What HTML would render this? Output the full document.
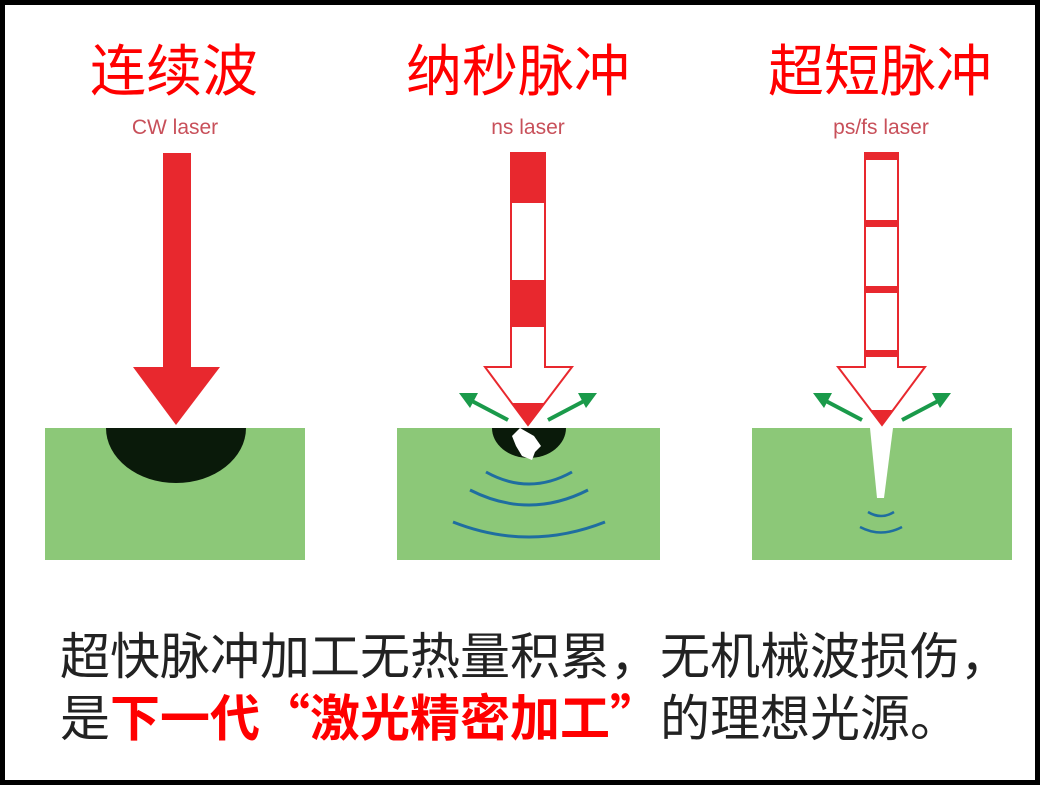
<!DOCTYPE html>
<html><head><meta charset="utf-8"><style>
html,body{margin:0;padding:0;background:#fff}
body{width:1040px;height:785px;position:relative;overflow:hidden;font-family:"Liberation Sans","Noto Sans CJK SC",sans-serif}
.frame{position:absolute;left:0;top:0;width:1030px;height:775px;border:5px solid #000}
.t{position:absolute;color:#f00;font-size:56px;line-height:56px;white-space:nowrap;text-align:center;width:300px;font-family:"Noto Sans CJK SC",sans-serif}
.s{position:absolute;color:#c8505a;font-size:21px;line-height:22px;text-align:center;width:300px}
.b{position:absolute;left:60px;font-size:50px;line-height:52px;color:#222;white-space:nowrap;font-family:"Noto Sans CJK SC",sans-serif}
.b span{color:#f00;font-weight:bold}
</style></head><body>
<div class="frame"></div>
<div class="t" style="left:24px;top:40px">连续波</div>
<div class="t" style="left:368px;top:40px">纳秒脉冲</div>
<div class="t" style="left:730px;top:40px">超短脉冲</div>
<div class="s" style="left:25px;top:117px">CW laser</div>
<div class="s" style="left:378px;top:117px">ns laser</div>
<div class="s" style="left:731px;top:117px">ps/fs laser</div>
<svg width="1040" height="785" style="position:absolute;left:0;top:0">
<rect x="45" y="428" width="260" height="132" fill="#8cc878"/>
<path d="M106 428 A70 55 0 0 0 246 428 Z" fill="#0a1a0a"/>
<rect x="163" y="153" width="28" height="215" fill="#e8282e"/>
<polygon points="133,367 220,367 176,425" fill="#e8282e"/>
<rect x="397" y="428" width="263" height="132" fill="#8cc878"/>
<path d="M492 428 A37 30 0 0 0 566 428 Z" fill="#0a1a0a"/>
<path d="M520 428 L534 436 L541 446 L535 452 L532 460 L522 456 L516 446 L512 436 Z" fill="#fff"/>
<g fill="none" stroke="#1f6ea0" stroke-width="3">
<path d="M486 472 Q529 496 572 472"/>
<path d="M470 490 Q529 520 588 490"/>
<path d="M453 522 Q529 552 605 522"/>
</g>
<path d="M511 153 H545 V367 H572 L528 425 L485 367 H511 Z" fill="#fff" stroke="#e8282e" stroke-width="2"/>
<rect x="511" y="153" width="34" height="50" fill="#e8282e"/>
<rect x="511" y="280" width="34" height="47" fill="#e8282e"/>
<polygon points="512,403 545,403 528,425" fill="#e8282e"/>
<rect x="752" y="428" width="260" height="132" fill="#8cc878"/>
<polygon points="870,428 893,428 884,498 877,498" fill="#fff"/>
<g fill="none" stroke="#1f6ea0" stroke-width="2.5">
<path d="M868 512 Q881 520 894 512"/>
<path d="M860 527 Q881 538 902 527"/>
</g>
<path d="M865 153 H898 V367 H925 L882 425 L838 367 H865 Z" fill="#fff" stroke="#e8282e" stroke-width="2"/>
<g fill="#e8282e">
<rect x="865" y="153" width="33" height="7"/>
<rect x="865" y="220" width="33" height="7"/>
<rect x="865" y="286" width="33" height="7"/>
<rect x="865" y="350" width="33" height="7"/>
<polygon points="870,410 894,410 882,425"/>
</g>
<g stroke="#1a9a4a" stroke-width="4" fill="#1a9a4a">
<line x1="508" y1="420" x2="470" y2="400"/><polygon points="459,393 478,393 470,408" stroke="none"/>
<line x1="548" y1="420" x2="586" y2="400"/><polygon points="597,393 578,393 586,408" stroke="none"/>
<line x1="862" y1="420" x2="824" y2="400"/><polygon points="813,393 832,393 824,408" stroke="none"/>
<line x1="902" y1="420" x2="940" y2="400"/><polygon points="951,393 932,393 940,408" stroke="none"/>
</g>
</svg>
<div class="b" style="top:627px">超快脉冲加工无热量积累，无机械波损伤，</div>
<div class="b" style="top:689px">是<span>下一代“激光精密加工”</span>的理想光源。</div>
</body></html>
